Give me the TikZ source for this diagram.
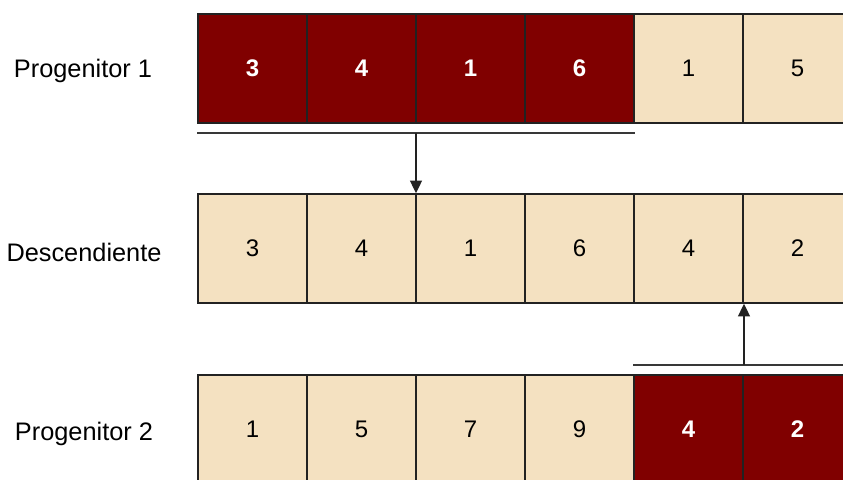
\documentclass[tikz,border=0pt]{standalone}
\usepackage{fontspec}
\setmainfont{Liberation Sans}
\usetikzlibrary{arrows.meta, positioning, calc}
\definecolor{genecolor}{HTML}{800000}
\definecolor{basecolor}{HTML}{F4E1C1}
\definecolor{edgecolor}{HTML}{222222}

\begin{document}
\begin{tikzpicture}[x=0.75pt, y=-0.75pt,
    cell/.style={rectangle, draw=edgecolor, line width=1.2pt, fill=basecolor, minimum width=81.75pt, minimum height=81.75pt, inner sep=0pt, font=\fontsize{18}{20}\selectfont},
    picked/.style={cell, fill=genecolor, text=white, font=\fontsize{18}{20}\selectfont\bfseries},
    rowlabel/.style={font=\fontsize{19}{22}\selectfont, anchor=center},
    arrow/.style={-{Triangle[length=9.5pt, width=9pt]}, line width=1.1pt, draw=edgecolor},
    cut/.style={line width=1.1pt, draw=edgecolor!90}
]
\clip (0,0) rectangle (843,479);
\fill[white] (0,0) rectangle (843,479);

% progenitor 1
\node[rowlabel] (lab1) at (83,71) {Progenitor 1};
\foreach \v [count=\i] in {3,4,1,6} {
    \node[picked] (p\i) at (252.5+109*\i-109,68.5) {\v};
}
\node[cell] (p5) at (688.5,68.5) {1};
\node[cell] (p6) at (797.5,68.5) {5};

% descendiente
\node[rowlabel] (lab2) at (84,252) {Descendiente};
\foreach \v [count=\i] in {3,4,1,6,4,2} {
    \node[cell] (d\i) at (252.5+109*\i-109,248.5) {\v};
}

% progenitor 2
\node[rowlabel] (lab3) at (84,434) {Progenitor 2};
\foreach \v [count=\i] in {1,5,7,9} {
    \node[cell] (q\i) at (252.5+109*\i-109,429.5) {\v};
}
\node[picked] (q5) at (688.5,429.5) {4};
\node[picked] (q6) at (797.5,429.5) {2};

% cut points
\coordinate (cut1) at (416,133);
\coordinate (cut2) at (744,365);
\draw[cut] (p1.south west |- cut1) -- (p4.south east |- cut1);
\draw[arrow] (cut1) -- (cut1 |- d3.north);
\draw[cut] (q5.north west |- cut2) -- (q6.north east |- cut2);
\draw[arrow] (cut2) -- (cut2 |- d6.south);
\end{tikzpicture}
\end{document}
